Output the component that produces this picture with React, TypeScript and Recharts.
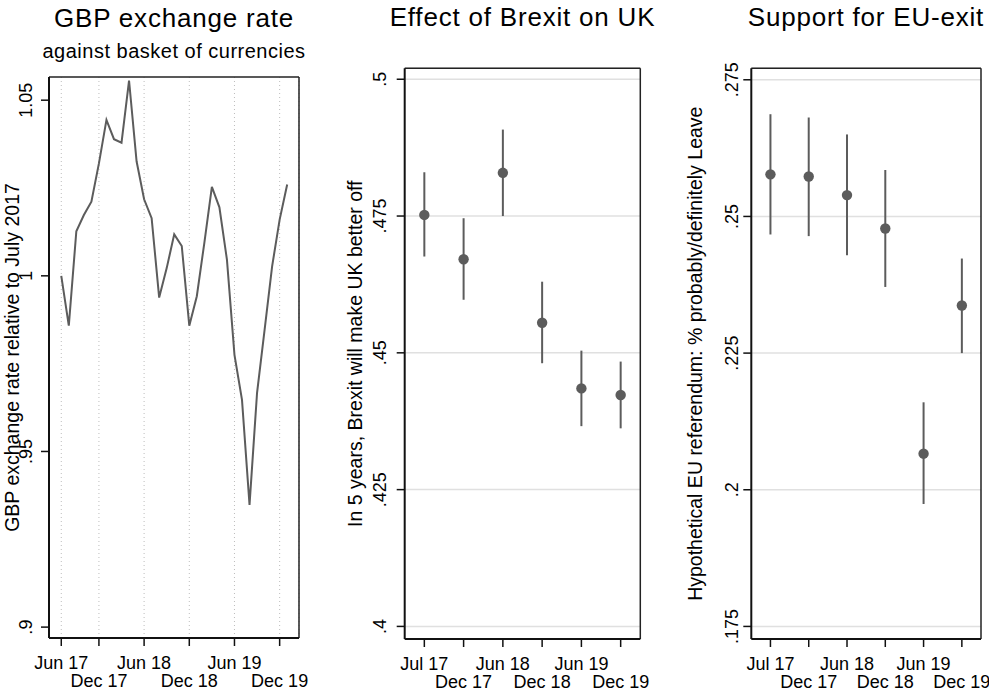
import {
  LineChart, Line, ComposedChart, Scatter, ErrorBar,
  XAxis, YAxis, CartesianGrid, ReferenceLine
} from 'recharts'

const FONT = '"Liberation Sans", Arial, Helvetica, sans-serif'
const GREY = '#5c5c5c'
const AXIS = '#111'

// GBP against basket, monthly Jul 2017 .. Jan 2020 (Jul 2017 = 1)
const gbpRate = [
  1.0, 0.9858, 1.0127, 1.0173, 1.0211, 1.032, 1.0444, 1.0389, 1.0379, 1.0556,
  1.0326, 1.0218, 1.0164, 0.9938, 1.0022, 1.0118, 1.0085, 0.9858, 0.9942, 1.0094,
  1.0253, 1.0195, 1.0046, 0.9775, 0.9647, 0.9348, 0.9667, 0.9846, 1.0027, 1.016,
  1.026,
]
const gbpTicks = [0, 5, 11, 17, 23, 29]
const gbpTickLabels = ['Jun 17', 'Dec 17', 'Jun 18', 'Dec 18', 'Jun 19', 'Dec 19']
const gbpYTicks = [0.9, 0.95, 1, 1.05]

// survey waves
const waves = ['Jul 17', 'Dec 17', 'Jun 18', 'Dec 18', 'Jun 19', 'Dec 19']

const betterOff = [0.4752, 0.4671, 0.4829, 0.4555, 0.4435, 0.4423]
const betterOffLo = [0.4676, 0.4597, 0.475, 0.4481, 0.4366, 0.4362]
const betterOffHi = [0.483, 0.4746, 0.4908, 0.463, 0.4504, 0.4484]
const betterOffTicks = [0.4, 0.425, 0.45, 0.475, 0.5]

const leave = [0.2577, 0.2573, 0.2539, 0.2478, 0.2066, 0.2337]
const leaveLo = [0.2467, 0.2464, 0.2429, 0.2371, 0.1974, 0.225]
const leaveHi = [0.2687, 0.2681, 0.265, 0.2585, 0.216, 0.2423]
const leaveTicks = [0.175, 0.2, 0.225, 0.25, 0.275]

const gbpData = gbpRate.map((rate, m) => ({ m, rate }))

function ciData(est: number[], lo: number[], hi: number[]) {
  return waves.map((w, i) => ({ x: i, wave: w, y: est[i], err: [est[i] - lo[i], hi[i] - est[i]] }))
}

const fmt = (v: number) => String(+v.toFixed(3)).replace(/^0\./, '.')

// labels alternate between two rows like the Stata original
function xTick(p: any, ticks: number[], labels: string[]) {
  const i = ticks.indexOf(p.payload.value)
  const row = i % 2
  return (
    <text x={p.x} y={p.y + (row ? 39.2 : 20.5)} textAnchor="middle" fontSize={18}
      fontFamily={FONT} fill="#000">
      {labels[i]}
    </text>
  )
}

function yTick(p: any, gap: number) {
  const x = p.x - gap
  return (
    <text x={x} y={p.y} transform={`rotate(-90 ${x} ${p.y})`} textAnchor="middle"
      fontSize={18} fontFamily={FONT} fill="#000">
      {fmt(p.payload.value)}
    </text>
  )
}

const dot = (p: any) => <circle cx={p.cx} cy={p.cy} r={5.2} fill={GREY} />

function CIPanel({ left, width, yLeft, right, data, domain, ticks, gap }: any) {
  return (
    <div style={{ position: 'absolute', left, top: 0 }}>
      <ComposedChart width={width} height={691} data={data}
        margin={{ top: 68.3, right, bottom: 0, left: 0 }}>
        <CartesianGrid vertical={false} stroke="#e0e0e0" strokeWidth={1.5} />
        <XAxis dataKey="x" type="number" domain={[-0.5, 5.5]} ticks={[0, 1, 2, 3, 4, 5]}
          interval={0} height={52} tickSize={8}
          axisLine={{ stroke: AXIS, strokeWidth: 2 }} tickLine={{ stroke: AXIS, strokeWidth: 1.5 }}
          tick={(p: any) => xTick(p, [0, 1, 2, 3, 4, 5], waves)} />
        <YAxis type="number" domain={domain} ticks={ticks} interval={0} width={yLeft}
          tickSize={8} allowDataOverflow
          axisLine={{ stroke: AXIS, strokeWidth: 2 }} tickLine={{ stroke: AXIS, strokeWidth: 1.5 }}
          tick={(p: any) => yTick(p, gap)} />
        <ReferenceLine y={domain[1]} stroke="#222" strokeWidth={1.5} />
        <ReferenceLine x={5.5} stroke="#222" strokeWidth={1.5} />
        <Scatter dataKey="y" fill={GREY} shape={dot} isAnimationActive={false}>
          <ErrorBar dataKey="err" direction="y" width={0} stroke={GREY} strokeWidth={2}
            isAnimationActive={false} />
        </Scatter>
      </ComposedChart>
    </div>
  )
}

export default function App() {
  return (
    <div style={{ position: 'absolute', left: 0, top: 0, width: 989, height: 691,
      background: '#fff', overflow: 'hidden', fontFamily: FONT }}>
      <div style={{ position: 'absolute', left: 0, top: 0 }}>
        <LineChart width={330} height={691} data={gbpData}
          margin={{ top: 77, right: 31, bottom: 0, left: 0 }}>
          <CartesianGrid horizontal={false} stroke="#bdbdbd" strokeDasharray="1 3" />
          <XAxis dataKey="m" type="number" domain={[-1.63, 31.57]} ticks={gbpTicks}
            interval={0} height={53} tickSize={8} allowDataOverflow
            axisLine={{ stroke: AXIS, strokeWidth: 2 }} tickLine={{ stroke: AXIS, strokeWidth: 1.5 }}
            tick={(p: any) => xTick(p, gbpTicks, gbpTickLabels)} />
          <YAxis type="number" domain={[0.8969, 1.0566]} ticks={gbpYTicks} interval={0}
            width={49} tickSize={8} allowDataOverflow
            axisLine={{ stroke: AXIS, strokeWidth: 2 }} tickLine={{ stroke: AXIS, strokeWidth: 1.5 }}
            tick={(p: any) => yTick(p, 7)} />
          <ReferenceLine y={1.0566} stroke="#222" strokeWidth={1.5} />
          <ReferenceLine x={31.57} stroke="#222" strokeWidth={1.5} />
          <Line dataKey="rate" type="linear" stroke={GREY} strokeWidth={2} dot={false}
            isAnimationActive={false} />
        </LineChart>
      </div>

      <CIPanel left={330} width={330} yLeft={74.7} right={19.7}
        data={ciData(betterOff, betterOffLo, betterOffHi)}
        domain={[0.3977, 0.502]} ticks={betterOffTicks} gap={8.5} />

      <CIPanel left={660} width={329} yLeft={91.3} right={8}
        data={ciData(leave, leaveLo, leaveHi)}
        domain={[0.1727, 0.2771]} ticks={leaveTicks} gap={3.5} />

      <svg width={989} height={691} style={{ position: 'absolute', left: 0, top: 0, pointerEvents: 'none' }}
        fontFamily={FONT} fill="#000">
        <text x={174} y={27} textAnchor="middle" fontSize={26} letterSpacing={0.8}>GBP exchange rate</text>
        <text x={174} y={58} textAnchor="middle" fontSize={20} letterSpacing={0.5}>against basket of currencies</text>
        <text x={522.5} y={26} textAnchor="middle" fontSize={26} letterSpacing={0.8}>Effect of Brexit on UK</text>
        <text x={866} y={26} textAnchor="middle" fontSize={26} letterSpacing={0.8}>Support for EU-exit</text>
        <text x={18.5} y={357.5} textAnchor="middle" fontSize={19.5}
          transform="rotate(-90 18.5 357.5)">GBP exchange rate relative to July 2017</text>
        <text x={361.7} y={353.7} textAnchor="middle" fontSize={19.5}
          transform="rotate(-90 361.7 353.7)">In 5 years, Brexit will make UK better off</text>
        <text x={701.7} y={353.7} textAnchor="middle" fontSize={19.5}
          transform="rotate(-90 701.7 353.7)">Hypothetical EU referendum: % probably/definitely Leave</text>
      </svg>
    </div>
  )
}
